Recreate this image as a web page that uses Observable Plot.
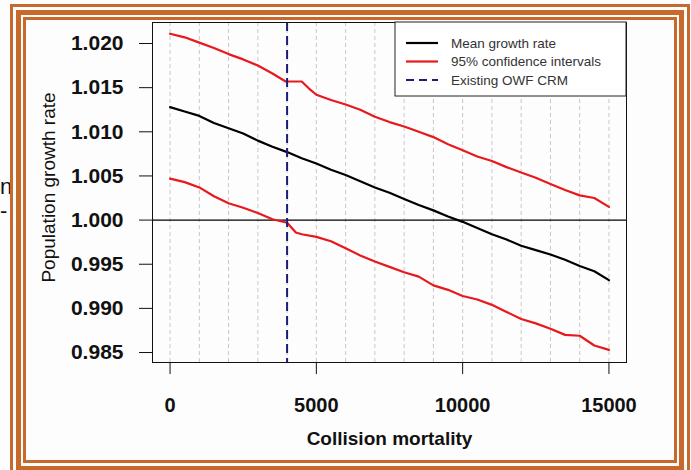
<!DOCTYPE html>
<html><head><meta charset="utf-8">
<script src="https://cdn.jsdelivr.net/npm/d3@7"></script>
<script src="https://cdn.jsdelivr.net/npm/@observablehq/plot@0.6"></script>
<style>
body{margin:0;background:#fff;}
#wrap{position:relative;width:691px;height:470px;overflow:hidden;font-family:"Liberation Sans",Arial,sans-serif;background:#fdfdfd;}
#wrap svg{position:absolute;left:0;top:0;}
.fr{position:absolute;border-style:solid;border-color:#c8692c;box-sizing:border-box;}
.stray{position:absolute;left:0px;font:22px "Liberation Sans",Arial,sans-serif;color:#111;line-height:1;}
</style></head><body>
<div id="wrap">
  <div class="stray" style="top:176px">n</div>
  <div class="stray" style="top:200px">-</div>
</div>
<script>
// ---- data ----
const collision = [0,500,1000,1500,2000,2500,3000,3500,4000,4500,5000,5500,6000,6500,7000,7500,8000,8500,9000,9500,10000,10500,11000,11500,12000,12500,13000,13500,14000,14500,15000];
const meanRate = [1.0128,1.0123,1.0118,1.0110,1.0104,1.0098,1.0090,1.0083,1.0077,1.0070,1.0064,1.0057,1.0051,1.0044,1.0037,1.0031,1.0024,1.0017,1.0011,1.0004,0.9998,0.9991,0.9984,0.9978,0.9971,0.9966,0.9961,0.9955,0.9948,0.9942,0.9932];
const upperX = [0,500,1000,1500,2000,2500,3000,3500,3950,4500,4750,5000,5500,6000,6500,7000,7500,8000,8500,9000,9500,10000,10500,11000,11500,12000,12500,13000,13500,14000,14500,15000];
const upperCI = [1.0211,1.0207,1.0201,1.0195,1.0188,1.0182,1.0175,1.0166,1.0157,1.0157,1.0149,1.0142,1.0136,1.0131,1.0125,1.0117,1.0111,1.0106,1.0100,1.0094,1.0086,1.0079,1.0072,1.0067,1.0060,1.0054,1.0048,1.0041,1.0034,1.0028,1.0025,1.0015];
const lowerX = [0,500,1000,1500,2000,2500,3000,3500,4000,4300,4500,5000,5500,6000,6500,7000,7500,8000,8500,9000,9500,10000,10500,11000,11500,12000,12500,13000,13500,14000,14500,15000];
const lowerCI = [1.0047,1.0043,1.0037,1.0027,1.0019,1.0014,1.0008,1.0001,0.9997,0.9986,0.9984,0.9981,0.9976,0.9968,0.9960,0.9953,0.9947,0.9941,0.9936,0.9926,0.9921,0.9914,0.9910,0.9904,0.9896,0.9888,0.9883,0.9877,0.9870,0.9869,0.9858,0.9853];
const existingCRM = [4000];
const gridX = [0,1000,2000,3000,4000,5000,6000,7000,8000,9000,10000,11000,12000,13000,14000,15000];
const xTicks = [0,5000,10000,15000];
const yTicks = [0.985,0.990,0.995,1.000,1.005,1.010,1.015,1.020];
const legendLabels = ["Mean growth rate","95% confidence intervals","Existing OWF CRM"];
const legendColors = ["#000000","#e8191c","#1c1c78"];
const legendDash = [null,null,"8,5"];
const xTitle = "Collision mortality";
const yTitle = "Population growth rate";

const pts = (xs, ys) => xs.map((x, i) => ({x, y: ys[i]}));

const plot = Plot.plot({
  width: 691, height: 470,
  marginLeft: 152, marginRight: 65, marginTop: 22, marginBottom: 108,
  x: {domain: [-600, 15600]},
  y: {domain: [0.98387, 1.02238]},
  style: {fontFamily: "'Liberation Sans', Arial, sans-serif", background: "transparent", color: "#111"},
  marks: [
    Plot.ruleX(gridX, {stroke: "#cbc6c6", strokeWidth: 1, strokeDasharray: "4,3"}),
    Plot.ruleY([1], {stroke: "#000", strokeWidth: 1.2}),
    Plot.line(pts(upperX, upperCI), {x: "x", y: "y", stroke: legendColors[1], strokeWidth: 2.2}),
    Plot.line(pts(lowerX, lowerCI), {x: "x", y: "y", stroke: legendColors[1], strokeWidth: 2.2}),
    Plot.line(pts(collision, meanRate), {x: "x", y: "y", stroke: legendColors[0], strokeWidth: 2.2}),
    Plot.ruleX(existingCRM, {stroke: legendColors[2], strokeWidth: 2, strokeDasharray: "9,5"}),
    Plot.frame({stroke: "#111", strokeWidth: 1}),
    Plot.axisY(yTicks, {tickSize: 13, tickPadding: 16, fontSize: 21, fontWeight: "bold", tickFormat: d => d.toFixed(3), label: null, strokeWidth: 1}),
    Plot.axisX(xTicks, {tickSize: 12, tickPadding: 23, fontSize: 20, fontWeight: "bold", tickFormat: d => String(d), label: null, strokeWidth: 1}),
    Plot.text([yTitle], {frameAnchor: "left", textAnchor: "middle", lineAnchor: "middle", dx: -104, dy: -5, rotate: -90, fontSize: 19, fill: "#111"}),
    Plot.text([xTitle], {frameAnchor: "bottom", textAnchor: "middle", dy: 82, fontSize: 19, fontWeight: "bold", fill: "#111"})
  ]
});
document.getElementById("wrap").appendChild(plot);

// legend inside plot area (top-right)
const svg = d3.select(plot);
const lg = svg.append("g").attr("transform", "translate(395,22)").attr("text-anchor", "start");
lg.append("rect").attr("width", 231).attr("height", 74).attr("fill", "#fff").attr("stroke", "#222").attr("stroke-width", 1);
legendLabels.forEach((lab, i) => {
  const yy = 21 + i * 18.5;
  lg.append("line").attr("x1", 11).attr("x2", 43).attr("y1", yy).attr("y2", yy)
    .attr("stroke", legendColors[i]).attr("stroke-width", 2.2)
    .attr("stroke-dasharray", legendDash[i]);
  lg.append("text").attr("x", 56).attr("y", yy).attr("dy", "0.35em")
    .attr("text-anchor", "start")
    .attr("font-size", 13.5).attr("fill", "#333").text(lab);
});

// decorative page frame
const wrap = document.getElementById("wrap");
[
  {l: 10, t: 4, w: 680, h: 480, b: 3},
  {l: 16, t: 10, w: 668, h: 461, b: 5},
  {l: 23, t: 17, w: 654, h: 446, b: 3}
].forEach(f => {
  const d = document.createElement("div");
  d.className = "fr";
  d.style.cssText = `left:${f.l}px;top:${f.t}px;width:${f.w}px;height:${f.h}px;border-width:${f.b}px;`;
  wrap.appendChild(d);
});
</script>
</body></html>
